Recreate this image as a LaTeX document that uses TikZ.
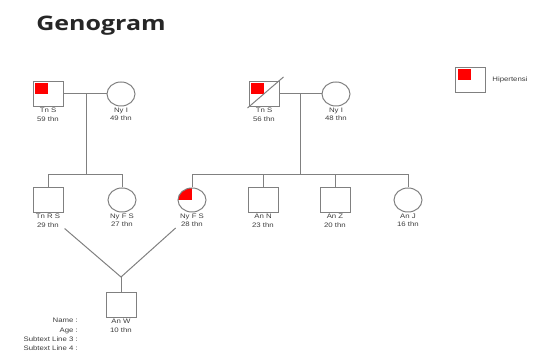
\documentclass[tikz,border=0pt]{standalone}
\usepackage{fontspec}
\setmainfont{Liberation Sans}
\newfontfamily\titlefont{Open Sans}
\usetikzlibrary{shapes.geometric,positioning}
\definecolor{linegray}{RGB}{128,128,128}
\definecolor{textgray}{RGB}{60,60,60}

\begin{document}
\begin{tikzpicture}[x=1pt,y=1pt,
  male/.style={draw=linegray, line width=1pt, rectangle, minimum width=30pt, minimum height=25pt, inner sep=0pt},
  female/.style={draw=linegray, line width=1pt, ellipse, minimum width=28pt, minimum height=24pt, inner sep=0pt},
  hyper/.style={path picture={\fill[red] ([xshift=#1,yshift=-#1]path picture bounding box.north west) rectangle (path picture bounding box.center);}},
  hyper/.default=2pt,
  lbl/.style={font=\fontsize{6.5}{8.5}\selectfont, text=textgray, align=center, inner sep=1pt, xscale=1.2},
  rel/.style={draw=linegray, line width=1pt}]
  \useasboundingbox (0,0) rectangle (539,356);
  \node[font=\titlefont\bfseries\fontsize{20}{24}\selectfont, text=black!85, xscale=1.25] (title) at (101,330) {Genogram};
  % Generation 1: left couple
  \node[male, hyper] (p1) at (48,262) {};
  \node[female] (p2) at (121,262) {};
  \node[lbl, below=0pt of p1] (p1l) {Tn S\\59 thn};
  \node[lbl, below=0pt of p2] (p2l) {Ny I\\49 thn};
  \coordinate (u1) at (86,262);
  \coordinate (s1) at (86,181.5);
  \draw[rel] (p1.east) -- (p2.west);
  \draw[rel] (u1) -- (s1);
  % Generation 1: right couple (husband deceased)
  \node[male, hyper] (p3) at (264,262) {};
  \node[female] (p4) at (336,262) {};
  \node[lbl, below=0pt of p3] (p3l) {Tn S\\56 thn};
  \node[lbl, below=0pt of p4] (p4l) {Ny I\\48 thn};
  \draw[rel] ([shift={(-1pt,-1pt)}]p3.south west) -- ([shift={(4pt,4pt)}]p3.north east);
  \coordinate (u2) at (300,262);
  \coordinate (s2) at (300,181.5);
  \draw[rel] (p3.east) -- (p4.west);
  \draw[rel] (u2) -- (s2);
  % Generation 2
  \node[male] (c1) at (48,156) {};
  \node[female] (c2) at (122,156) {};
  \node[female, hyper=0pt] (c3) at (192,156) {};
  \node[male] (c4) at (263,156) {};
  \node[male] (c5) at (335,156) {};
  \node[female] (c6) at (408,156) {};
  \node[lbl, below=0pt of c1] (c1l) {Tn R S\\29 thn};
  \node[lbl, below=0pt of c2] (c2l) {Ny F S\\27 thn};
  \node[lbl, below=0pt of c3] (c3l) {Ny F S\\28 thn};
  \node[lbl, below=0pt of c4] (c4l) {An N\\23 thn};
  \node[lbl, below=0pt of c5] (c5l) {An Z\\20 thn};
  \node[lbl, below=0pt of c6] (c6l) {An J\\16 thn};
  \draw[rel] (c1.north) |- (s1) -| (c2.north);
  \draw[rel] (c3.north) |- (s2) -| (c6.north);
  \draw[rel] (c4.north) -- (c4.north |- s2);
  \draw[rel] (c5.north) -- (c5.north |- s2);
  % Generation 3
  \coordinate (u3) at (121,79);
  \node[male] (g1) at (121,51) {};
  \node[lbl, below=0pt of g1] (g1l) {An W\\10 thn};
  \draw[rel] ([xshift=3pt]c1l.south east) -- (u3) -- ([xshift=-3pt]c3l.south west);
  \draw[rel] (u3) -- (g1.north);
  % Info and legend
  \node[font=\fontsize{6.5}{9.4}\selectfont, text=textgray, align=right, inner sep=0pt, xscale=1.2, anchor=north east] (info) at (78,38) {Name :\\Age :\\Subtext Line 3 :\\Subtext Line 4 :};
  \node[male, hyper] (key) at (470.5,276) {};
  \node[lbl, right=5pt of key] (keyl) {Hipertensi};
\end{tikzpicture}
\end{document}
